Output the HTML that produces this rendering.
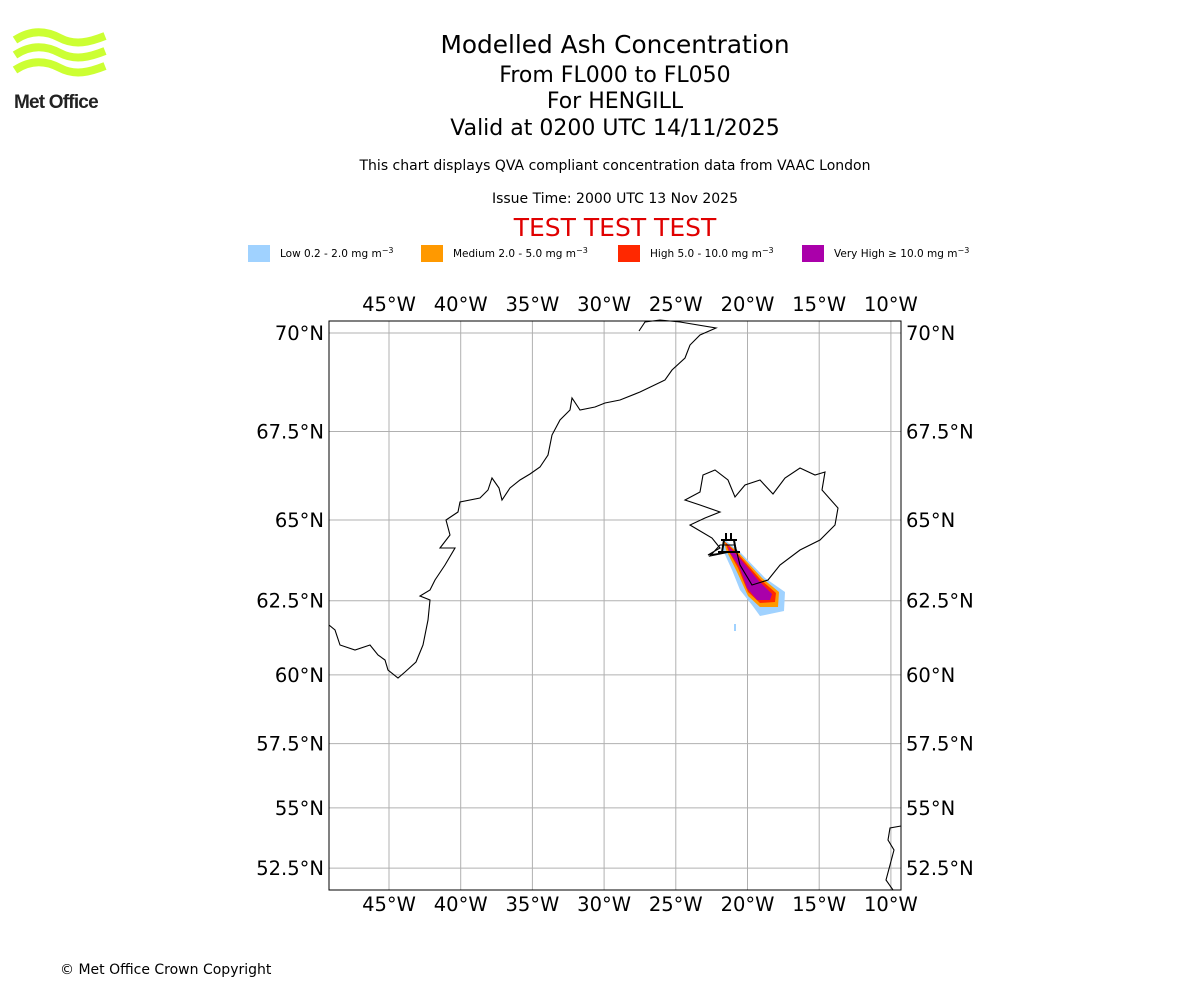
<!DOCTYPE html>
<html><head><meta charset="utf-8">
<style>
body{margin:0;background:#fff;font-family:"DejaVu Sans","Liberation Sans",sans-serif;}
#wrap{position:relative;width:1200px;height:1000px;overflow:hidden;}
.t{position:absolute;left:0;width:1230px;text-align:center;color:#000;}
</style></head><body>
<div id="wrap">
<svg style="position:absolute;left:10px;top:28px" width="100" height="85">
<g fill="none" stroke="#ccff33" stroke-width="8">
<path d="M5 12 C20 2,35 2,50 10 S80 14,95 8"/>
<path d="M5 27 C20 17,35 17,50 25 S80 29,95 23"/>
<path d="M5 42 C20 32,35 32,50 40 S80 44,95 38"/>
</g>
<text x="4" y="80" font-family="Liberation Sans,sans-serif" font-weight="bold" font-size="19" fill="#222" letter-spacing="-0.8">Met Office</text>
</svg>
<div class="t" style="top:30px;font-size:24.8px">Modelled Ash Concentration</div>
<div class="t" style="top:63px;font-size:22px">From FL000 to FL050</div>
<div class="t" style="top:89px;font-size:22px">For HENGILL</div>
<div class="t" style="top:116px;font-size:22px">Valid at 0200 UTC 14/11/2025</div>
<div class="t" style="top:158px;font-size:14px">This chart displays QVA compliant concentration data from VAAC London</div>
<div class="t" style="top:191px;font-size:14px">Issue Time: 2000 UTC 13 Nov 2025</div>
<div class="t" style="top:213px;font-size:25px;color:#e00000">TEST TEST TEST</div>
<div style="position:absolute;left:60px;top:962px;font-size:14px">© Met Office Crown Copyright</div>
<svg id="map" width="1200" height="1000" style="position:absolute;left:0;top:0"></svg>
</div>
<script>
const lonTicks=[-45,-40,-35,-30,-25,-20,-15,-10];
const latTicks=[70,67.5,65,62.5,60,57.5,55,52.5];
const legendLabels=["Low 0.2 - 2.0 mg m","Medium 2.0 - 5.0 mg m","High 5.0 - 10.0 mg m","Very High \u2265 10.0 mg m"];
const legendColors=["#a0d2ff","#ff9900","#ff2800","#aa00aa"];
const NS="http://www.w3.org/2000/svg";
const svg=document.getElementById('map');
const L=329,R=901,T=321,B=890;
function xLon(lon){return 389+(lon+45)*71.7/5;}
function merc(lat){return Math.log(Math.tan(Math.PI/4+lat*Math.PI/360));}
function yLat(lat){return 333+(merc(70)-merc(lat))*817;}
function mk(tag,attrs,parent){const e=document.createElementNS(NS,tag);for(const k in attrs)e.setAttribute(k,attrs[k]);(parent||svg).appendChild(e);return e;}
const lx=[248,421,618,802];
legendLabels.forEach((lab,i)=>{
 const r=mk('rect',{x:lx[i],y:245,width:22,height:17,fill:legendColors[i]});
 
 
 const t=mk('text',{x:lx[i]+32,y:257,'font-size':10.5,'font-family':'DejaVu Sans,sans-serif'});
 t.textContent=lab;
 const s=mk('tspan',{'baseline-shift':'super','font-size':8},t);s.textContent='\u22123';
 
 
});
const g=mk('g',{stroke:'#b0b0b0','stroke-width':1});
lonTicks.forEach(v=>{const x=xLon(v);const l=mk('line',{x1:x,x2:x,y1:T,y2:B},g);
 
 [311,911].forEach(y=>{const t=mk('text',{x:x,y:y,'text-anchor':'middle','font-size':19.5,'font-family':'DejaVu Sans,sans-serif'});t.textContent=Math.abs(v)+'°W';
 });});
latTicks.forEach(v=>{const y=yLat(v);const l=mk('line',{x1:L,x2:R,y1:y,y2:y},g);
 
 const a=mk('text',{x:324,y:y+7,'text-anchor':'end','font-size':19.5,'font-family':'DejaVu Sans,sans-serif'});a.textContent=v+'°N';
 
 const b=mk('text',{x:906,y:y+7,'font-size':19.5,'font-family':'DejaVu Sans,sans-serif'});b.textContent=v+'°N';
 });
const plumes=[
 ["#a0d2ff","725,540 740,552 765,578 785,592 784,611 760,616 752,605 740,590 732,570 722,548"],
 ["#ff9900","724,541 738,552 762,578 779,592 778,607 760,607 748,596 737,572 726,550"],
 ["#ff2800","725,542 737,553 760,579 776,593 775,602 760,603 748,592 738,568 728,550"],
 ["#aa00aa","728,546 738,556 758,580 772,594 770,600 757,600 747,588 739,566 730,553"]];
plumes.forEach(p=>{const e=mk('polygon',{points:p[1],fill:p[0]});
 });
mk('rect',{x:734,y:624,width:2,height:7,fill:'#a0d2ff'});
const cg=mk('g',{fill:'none',stroke:'#000','stroke-width':1.1});
const greenland="639,331 645,322 660,320 680,322 716,328 700,335 690,345 685,358 672,370 665,380 640,392 620,400 605,403 595,407 580,410 572,398 570,410 560,420 552,435 548,455 540,467 530,474 520,480 510,488 502,500 499,488 492,478 488,490 480,498 460,502 458,512 446,520 450,535 440,548 455,548 445,565 435,580 430,590 420,596 430,600 428,620 423,645 416,662 405,672 398,678 388,670 385,660 378,655 370,645 355,650 340,645 335,630 329,625";
const iceland="735,545 720,545 710,556 730,552 708,555 720,548 712,538 690,525 705,518 720,512 700,505 685,500 700,492 703,475 715,470 728,480 735,497 745,485 760,480 773,494 785,478 800,468 815,475 825,472 822,490 838,508 835,525 820,540 800,550 780,565 768,580 752,585 740,565 735,545";
const gl=mk('polyline',{points:greenland},cg);
const ic=mk('polygon',{points:iceland},cg);
const ir=mk('polyline',{points:"901,826 890,828 888,840 894,850 890,865 886,880 893,890"},cg);
const vm=mk('path',{d:'M721 540 L737 540 M724 540 L722 552 M734 540 L736 552 M718 552 L740 552 M726 533 L726 540 M731 533 L731 540',stroke:'#000','stroke-width':2,fill:'none'});

const fr=mk('rect',{x:L,y:T,width:R-L,height:B-T,fill:'none',stroke:'#000','stroke-width':1});

</script>
</body></html>
